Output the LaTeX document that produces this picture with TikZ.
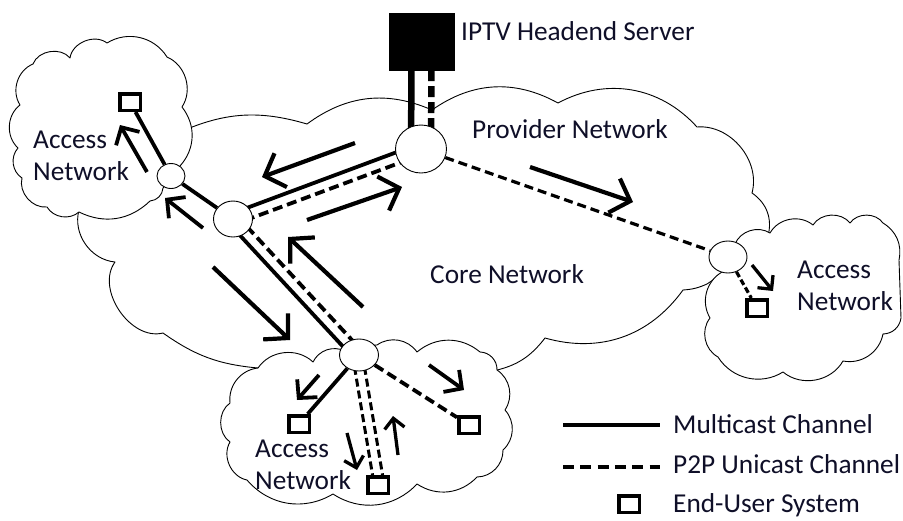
\documentclass[tikz,border=0pt]{standalone}
\usepackage{fontspec}
\setmainfont{Carlito}
\usetikzlibrary{arrows.meta,calc,shapes.geometric}
\pgfdeclarelayer{bg}
\pgfdeclarelayer{wires}
\pgfsetlayers{bg,wires,main}
\definecolor{txtc}{RGB}{15,15,40}
\begin{document}
\begin{tikzpicture}[x=1pt,y=-1pt,
  cloudline/.style={draw=black,line width=0.9pt,fill=white,line join=round},
  router/.style={ellipse,draw=black,line width=0.9pt,fill=white,inner sep=0pt},
  enduser/.style={rectangle,draw=black,line width=3.5pt,fill=white,minimum width=20.5pt,minimum height=16.5pt,inner sep=0pt},
  mc/.style={line width=3.8pt},
  uc/.style={line width=3.8pt,dash pattern=on 10pt off 5pt},
  flowbig/.style={line width=4.2pt,-{Straight Barb[length=17pt,width=36pt]}},
  flowmid/.style={line width=3.8pt,-{Straight Barb[length=13pt,width=27pt]}},
  flowsmall/.style={line width=3.3pt,-{Straight Barb[length=10pt,width=20pt]}},
  lbl/.style={text=txtc,font=\fontsize{27.3}{32}\selectfont,inner sep=0pt}]
\useasboundingbox (0,0) rectangle (903,520);

% ---------- nodes ----------
\node[draw=black,fill=black,minimum width=65pt,minimum height=57pt,inner sep=0pt] (S) at (421.5,41.5) {};
\node[router,minimum width=51pt,minimum height=48pt] (P) at (421,149) {};
\node[router,minimum width=39pt,minimum height=36pt] (C) at (233,219) {};
\node[router,minimum width=28pt,minimum height=25pt] (L) at (171,176) {};
\node[router,minimum width=39pt,minimum height=32pt] (B) at (359,355) {};
\node[router,minimum width=38pt,minimum height=32pt] (R) at (728,257) {};

\node[enduser] (U1) at (130,102) {};
\node[enduser] (U2) at (757,308) {};
\node[enduser] (U3) at (299,424) {};
\node[enduser] (U4) at (378,485) {};
\node[enduser] (U5) at (469,425) {};
\node[enduser] (U6) at (629,504) {};

% ---------- labels ----------
\node[lbl,anchor=base west] (tS) at (461,40) {IPTV Headend Server};
\node[lbl,anchor=base west] (tP) at (472,138) {Provider Network};
\node[lbl,anchor=base west] (tC) at (430,283) {Core Network};
\node[lbl,anchor=north west,align=left] (tA1) at (33,131) {Access\\Network};
\node[lbl,anchor=north west,align=left] (tA2) at (797,261) {Access\\Network};
\node[lbl,anchor=north west,align=left] (tA3) at (255,440) {Access\\Network};
\node[lbl,anchor=base west] (tL1) at (673,433) {Multicast Channel};
\node[lbl,anchor=base west] (tL2) at (673,473) {P2P Unicast Channel};
\node[lbl,anchor=base west] (tL3) at (673,512) {End-User System};

% ---------- clouds ----------
\begin{pgfonlayer}{bg}
\fill[white] (0,0) rectangle (903,520);
% core / provider cloud
\draw[cloudline] (180,132) to[bend left=20] (307,124) to[bend left=30] (432,110)
  to[bend left=32] (558,103) to[bend left=38] (697,127) to[bend left=55] (752,193)
  to[bend left=35] (768,236) -- (745,258) -- (728,270) -- (707,284)
  to[bend left=10] (683,290) to[bend left=35] (545,338) to[bend left=20] (493,371)
  -- (258,368) to[bend left=15] (163,333) to[bend left=70] (115,262)
  to[bend left=50] (79,210) -- cycle;
% top-left access cloud
\draw[cloudline] (33,64) to[bend left=60] (70,58) to[bend left=60] (107,43)
  to[bend left=45] (167,57) to[bend left=50] (182,107) to[bend left=40] (180,166)
  -- (163,188) to[bend left=40] (150,201) to[bend left=35] (79,212)
  to[bend left=50] (47,207) to[bend left=55] (22,178) to[bend left=50] (18,148)
  to[bend left=50] (20,105) to[bend left=50] (33,64) -- cycle;
% right access cloud
\draw[cloudline] (735,244) to[bend left=50] (770,233) to[bend left=50] (813,225)
  to[bend left=55] (850,223) to[bend left=55] (883,223) to[bend left=35] (899,260)
  -- (901,318) to[bend left=40] (883,334) to[bend left=45] (843,361)
  to[bend left=50] (783,372) to[bend left=45] (718,357) to[bend left=50] (710,318)
  to[bend left=45] (722,272) -- cycle;
% bottom access cloud
\draw[cloudline] (258,368) to[bend left=50] (313,362) to[bend left=45] (345,351)
  -- (359,346) -- (377,345) to[bend left=45] (417,352) to[bend left=40] (480,352)
  to[bend left=45] (497,370) to[bend left=45] (505,410) to[bend left=45] (503,450)
  to[bend left=45] (477,477) to[bend left=40] (417,484) to[bend left=40] (333,494)
  to[bend left=40] (247,480) to[bend left=55] (230,442) to[bend left=55] (230,403)
  to[bend left=45] (258,368) -- cycle;
\end{pgfonlayer}

% ---------- connectors ----------
\begin{pgfonlayer}{wires}
\draw[line width=6.5pt] ($(S.south)+(-10,0)$) -- ($(P.center)+(-10,0)$);
\draw[line width=6.5pt,dash pattern=on 11pt off 5pt] ($(S.south)+(10,0)$) -- ($(P.center)+(10,0)$);
\draw[mc] ($(P)+(-1.9,-5.2)$) -- ($(C)+(-1.9,-5.2)$);
\draw[uc] ($(P)+(1.9,5.2)$) -- ($(C)+(1.9,5.2)$);
\draw[mc] (C) -- (L);
\draw[mc] (L) -- (U1);
\draw[mc] ($(C)+(-4.4,4.1)$) -- ($(B)+(-4.4,4.1)$);
\draw[uc] ($(C)+(3.7,-3.4)$) -- ($(B)+(3.7,-3.4)$);
\draw[line width=3.2pt,dash pattern=on 9pt off 5pt] (P) -- (R);
\draw[line width=3.2pt,dash pattern=on 6pt off 3pt] (R) -- (U2);
\draw[mc] (B) -- (U3);
\draw[line width=3pt,dash pattern=on 8pt off 4pt] ($(B)+(-6.5,0)$) -- ($(U4)+(-3.8,0)$);
\draw[line width=3pt,dash pattern=on 8pt off 4pt] ($(B)+(3.5,0)$) -- ($(U4)+(6.2,0)$);
\draw[uc] (B) -- (U5);

% flow arrows
\draw[flowbig] (355,143) -- (262,177);
\draw[flowbig] (307,220) -- (402,187);
\draw[flowmid] (203,228) -- (165,198);
\draw[flowbig] (213,267) -- (290,340);
\draw[flowbig] (363,307) -- (288,237);
\draw[flowbig] (530,167) -- (633,202);
\draw[flowmid] (147,172) -- (120,125);
\draw[flowmid] (319,375) -- (297,400);
\draw[flowmid] (429,365) -- (464,390);
\draw[flowsmall] (752,265) -- (773,291);
\draw[flowsmall] (347,433) -- (357,470);
\draw[flowsmall] (398,455) -- (393,416);

% legend lines
\coordinate (m1) at (563,425);
\coordinate (m2) at (660,425);
\coordinate (d1) at (563,467);
\coordinate (d2) at (660,467);
\draw[mc] (m1) -- (m2);
\draw[line width=3.8pt,dash pattern=on 11pt off 6.3pt] (d1) -- (d2);
\end{pgfonlayer}
\end{tikzpicture}
\end{document}
